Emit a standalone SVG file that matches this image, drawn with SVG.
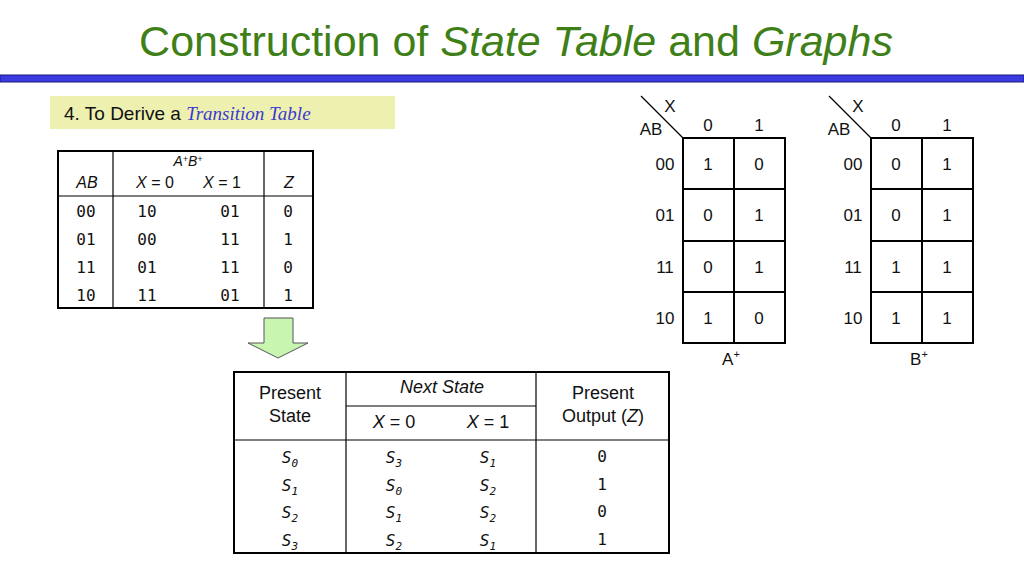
<svg xmlns="http://www.w3.org/2000/svg" width="1024" height="576" viewBox="0 0 1024 576">
<style>
.s{font-family:"Liberation Sans",Arial,sans-serif;fill:#111}
.m{font-family:"DejaVu Sans Mono","Liberation Mono",monospace;fill:#111;font-size:16px}
.i{font-style:italic}
.g{fill:none;stroke:#000;stroke-width:2}
.t{fill:none;stroke:#000;stroke-width:1.2}
</style>
<rect width="1024" height="576" fill="#fff"/>
<g id="title">
<text x="516" y="56" text-anchor="middle" font-family="Liberation Sans,Arial,sans-serif" font-size="43" fill="#3f7f17">Construction of <tspan font-style="italic">State Table</tspan> and <tspan font-style="italic">Graphs</tspan></text>
<rect x="0" y="75" width="1024" height="7" fill="#3a3ae0" stroke="#1a1a80" stroke-width="1"/>
</g>
<g id="step">
<rect x="50" y="96" width="345" height="33" fill="#eef0b0"/>
<text x="64" y="120" class="s" font-size="19">4. To Derive a <tspan font-family="Liberation Serif,serif" font-style="italic" fill="#3a3ad0">Transition Table</tspan></text>
</g>
<g id="transition-table">
<rect x="58" y="151" width="255" height="157" class="g" stroke-width="2.5"/>
<line x1="113" y1="151" x2="113" y2="308" class="t"/>
<line x1="264" y1="151" x2="264" y2="308" class="t"/>
<line x1="58" y1="196" x2="313" y2="196" class="t"/>
<text x="188" y="166" class="s i" font-size="14" text-anchor="middle">A<tspan font-size="9" dy="-4">+</tspan><tspan dy="4">B</tspan><tspan font-size="9" dy="-4">+</tspan></text>
<text x="87" y="188" class="s i" font-size="16" text-anchor="middle">AB</text>
<text x="155" y="188" class="s" font-size="16" text-anchor="middle"><tspan font-style="italic">X</tspan> = 0</text>
<text x="222" y="188" class="s" font-size="16" text-anchor="middle"><tspan font-style="italic">X</tspan> = 1</text>
<text x="289" y="188" class="s i" font-size="16" text-anchor="middle">Z</text>
<g class="m" text-anchor="middle">
<text x="86" y="217">00</text><text x="147" y="217">10</text><text x="230" y="217">01</text><text x="288" y="217">0</text>
<text x="86" y="245">01</text><text x="147" y="245">00</text><text x="230" y="245">11</text><text x="288" y="245">1</text>
<text x="86" y="273">11</text><text x="147" y="273">01</text><text x="230" y="273">11</text><text x="288" y="273">0</text>
<text x="86" y="301">10</text><text x="147" y="301">11</text><text x="230" y="301">01</text><text x="288" y="301">1</text>
</g>
</g>
<g id="arrow">
<polygon points="264,318 293,318 293,343 308,343 278,358 248,343 264,343" fill="#c8f5b0" stroke="#555" stroke-width="1"/>
</g>
<g id="kmap-a">
<line x1="641" y1="96" x2="683" y2="138" class="t"/>
<text x="670" y="112" class="s" font-size="17" text-anchor="middle">X</text>
<text x="651" y="135" class="s" font-size="17" text-anchor="middle">AB</text>
<text x="708" y="131" class="s" font-size="17" text-anchor="middle">0</text>
<text x="759" y="131" class="s" font-size="17" text-anchor="middle">1</text>
<rect x="683" y="138" width="102" height="205" class="g"/>
<line x1="734" y1="138" x2="734" y2="343" class="g"/>
<line x1="683" y1="189" x2="785" y2="189" class="g"/><line x1="683" y1="241" x2="785" y2="241" class="g"/><line x1="683" y1="292" x2="785" y2="292" class="g"/>
<g class="s" font-size="17" text-anchor="middle">
<text x="665" y="170">00</text><text x="665" y="221">01</text><text x="665" y="273">11</text><text x="665" y="324">10</text>
<text x="708" y="170">1</text><text x="759" y="170">0</text>
<text x="708" y="221">0</text><text x="759" y="221">1</text>
<text x="708" y="273">0</text><text x="759" y="273">1</text>
<text x="708" y="324">1</text><text x="759" y="324">0</text>
<text x="731" y="365">A<tspan font-size="11" dy="-7">+</tspan></text>
</g>
</g>
<g id="kmap-b">
<line x1="829" y1="96" x2="871" y2="138" class="t"/>
<text x="858" y="112" class="s" font-size="17" text-anchor="middle">X</text>
<text x="839" y="135" class="s" font-size="17" text-anchor="middle">AB</text>
<text x="896" y="131" class="s" font-size="17" text-anchor="middle">0</text>
<text x="947" y="131" class="s" font-size="17" text-anchor="middle">1</text>
<rect x="871" y="138" width="102" height="205" class="g"/>
<line x1="922" y1="138" x2="922" y2="343" class="g"/>
<line x1="871" y1="189" x2="973" y2="189" class="g"/><line x1="871" y1="241" x2="973" y2="241" class="g"/><line x1="871" y1="292" x2="973" y2="292" class="g"/>
<g class="s" font-size="17" text-anchor="middle">
<text x="853" y="170">00</text><text x="853" y="221">01</text><text x="853" y="273">11</text><text x="853" y="324">10</text>
<text x="896" y="170">0</text><text x="947" y="170">1</text>
<text x="896" y="221">0</text><text x="947" y="221">1</text>
<text x="896" y="273">1</text><text x="947" y="273">1</text>
<text x="896" y="324">1</text><text x="947" y="324">1</text>
<text x="919" y="365">B<tspan font-size="11" dy="-7">+</tspan></text>
</g>
</g>
<g id="state-table">
<rect x="234" y="372" width="435" height="181" class="g" stroke-width="2.5"/>
<line x1="346" y1="372" x2="346" y2="553" class="t"/>
<line x1="536" y1="372" x2="536" y2="553" class="t"/>
<line x1="346" y1="406" x2="536" y2="406" class="t"/>
<line x1="234" y1="440" x2="669" y2="440" class="t"/>
<g class="s" font-size="18" text-anchor="middle">
<text x="290" y="399">Present</text><text x="290" y="422">State</text>
<text x="442" y="393" font-style="italic">Next State</text>
<text x="394" y="428"><tspan font-style="italic">X</tspan> = 0</text>
<text x="488" y="428"><tspan font-style="italic">X</tspan> = 1</text>
<text x="603" y="399">Present</text><text x="603" y="422">Output (<tspan font-style="italic">Z</tspan>)</text>
</g>
<g class="m" font-size="17" font-style="italic" text-anchor="middle">
<text x="290" y="463">S<tspan font-size="11" dy="4">0</tspan></text>
<text x="290" y="491">S<tspan font-size="11" dy="4">1</tspan></text>
<text x="290" y="518">S<tspan font-size="11" dy="4">2</tspan></text>
<text x="290" y="546">S<tspan font-size="11" dy="4">3</tspan></text>
<text x="394" y="463">S<tspan font-size="11" dy="4">3</tspan></text>
<text x="394" y="491">S<tspan font-size="11" dy="4">0</tspan></text>
<text x="394" y="518">S<tspan font-size="11" dy="4">1</tspan></text>
<text x="394" y="546">S<tspan font-size="11" dy="4">2</tspan></text>
<text x="488" y="463">S<tspan font-size="11" dy="4">1</tspan></text>
<text x="488" y="491">S<tspan font-size="11" dy="4">2</tspan></text>
<text x="488" y="518">S<tspan font-size="11" dy="4">2</tspan></text>
<text x="488" y="546">S<tspan font-size="11" dy="4">1</tspan></text>
</g>
<g class="m" text-anchor="middle">
<text x="602" y="462">0</text><text x="602" y="490">1</text><text x="602" y="517">0</text><text x="602" y="545">1</text>
</g>
</g>
</svg>
